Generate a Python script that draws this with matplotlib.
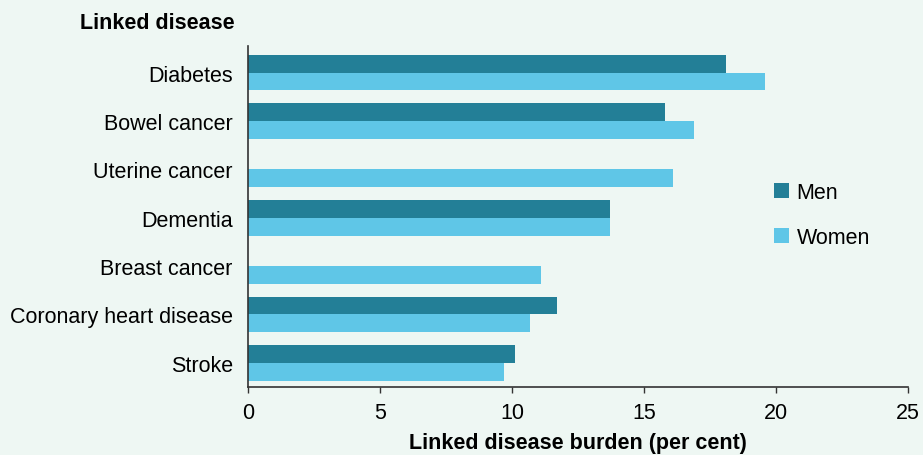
import numpy as np
import matplotlib
matplotlib.use('Agg')
import matplotlib.pyplot as plt

diseases = ['Diabetes', 'Bowel cancer', 'Uterine cancer', 'Dementia',
            'Breast cancer', 'Coronary heart disease', 'Stroke']
men = [18.1, 15.8, np.nan, 13.7, np.nan, 11.7, 10.1]
women = [19.6, 16.9, 16.1, 13.7, 11.1, 10.7, 9.7]

men_col = '#237f97'
women_col = '#5fc6e7'
bg = '#eef7f3'

plt.rcParams['font.family'] = ['Liberation Sans', 'DejaVu Sans']
plt.rcParams['font.size'] = 15.5

fig = plt.figure(figsize=(9.23, 4.56), dpi=100, facecolor=bg)
ax = fig.add_axes([248 / 923, 68 / 456, 660 / 923, 341 / 456], facecolor=bg)

y = np.arange(len(diseases))[::-1]
h = 0.37
ax.barh(y + h / 2, men, height=h, color=men_col, label='Men')
ax.barh(y - h / 2, women, height=h, color=women_col, label='Women')

ax.set_xlim(0, 25)
ax.set_ylim(-0.5, 6.55)
ax.set_xticks([0, 5, 10, 15, 20, 25])
ax.set_yticks(y)
ax.set_yticklabels(diseases)
ax.tick_params(axis='y', length=0, pad=11)
ax.tick_params(axis='x', length=4.5, width=1, color='#333333', pad=6)

for s in ['top', 'right']:
    ax.spines[s].set_visible(False)
for s in ['left', 'bottom']:
    ax.spines[s].set_color('#333333')
    ax.spines[s].set_linewidth(1.2)

ax.set_xlabel('Linked disease burden (per cent)', fontweight='bold', labelpad=7)
fig.text(235 / 923, 1 - 24 / 456, 'Linked disease', fontweight='bold',
         ha='right', va='center')

ax.legend(loc='upper left', bbox_to_anchor=(774 / 923, 1 - 183 / 456),
          bbox_transform=fig.transFigure, frameon=False, borderpad=0,
          borderaxespad=0, handlelength=0.7, handleheight=0.7,
          handletextpad=0.35, labelspacing=1.12)

fig.savefig('out.png', dpi=100, facecolor=bg)
